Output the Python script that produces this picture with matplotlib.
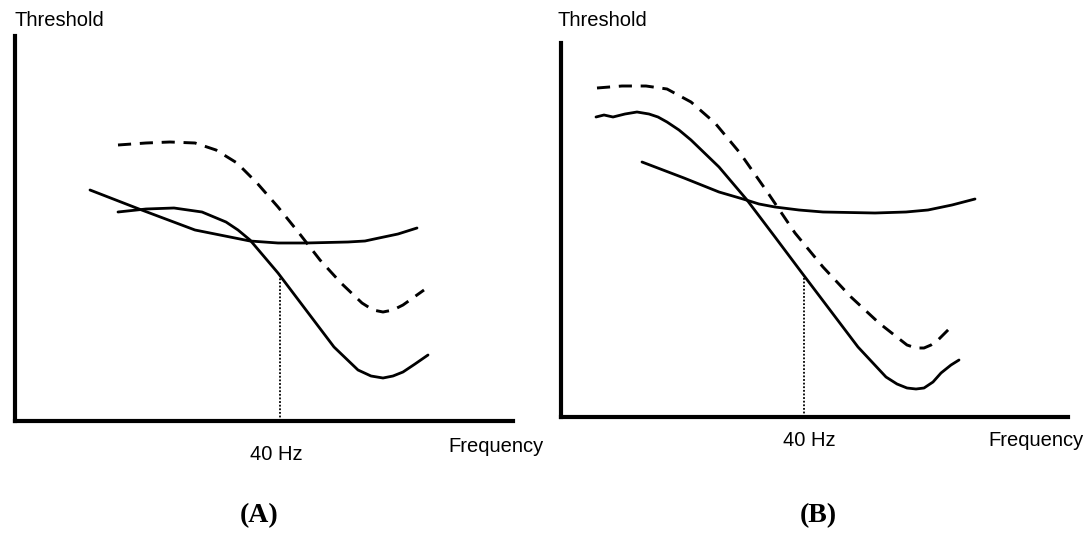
import matplotlib.pyplot as plt
import numpy as np

# schematic threshold curves, units = arbitrary
# panel A
a_dash_x = [103, 131, 155, 180, 201, 222, 242, 263, 284, 305, 326, 347, 358, 368, 378, 388, 409]
a_dash_y = [276, 278, 279, 278, 271, 258, 238, 214, 188, 161, 138, 118, 111, 109, 111, 116, 131]
a_s_x = [103, 131, 159, 187, 211, 223, 235, 263, 291, 319, 343, 356, 368, 378, 388, 400, 413]
a_s_y = [209, 212, 213, 209, 199, 191, 181, 148, 111, 74, 51, 45, 43, 45, 49, 57, 66]
a_flat_x = [75, 124, 180, 235, 263, 291, 333, 350, 364, 383, 402]
a_flat_y = [231, 212, 191, 180, 178, 178, 179, 180, 183, 187, 193]
a_40hz = 265

# panel B
b_dash_x = [36, 61, 85, 106, 130, 154, 179, 207, 234, 262, 290, 318, 346, 355, 363, 370, 377, 389]
b_dash_y = [329, 331, 331, 328, 315, 294, 264, 224, 184, 150, 120, 94, 72, 69, 69, 72, 77, 89]
b_s_x = [35, 43, 52, 64, 76, 88, 97, 106, 118, 130, 158, 186, 214, 241, 269, 297, 325, 336,
         346, 355, 363, 372, 380, 390, 398]
b_s_y = [300, 302, 300, 303, 305, 303, 300, 295, 287, 277, 250, 217, 180, 144, 107, 70, 40, 33,
         29, 28, 29, 35, 44, 52, 57]
b_flat_x = [81, 123, 158, 182, 198, 214, 238, 262, 314, 345, 367, 391, 414]
b_flat_y = [255, 239, 225, 218, 213, 210, 207, 205, 204, 205, 207, 212, 218]
b_40hz = 243

W, H = 1091, 539
fig = plt.figure(figsize=(W / 100, H / 100), dpi=100)

label_font = ['Liberation Sans', 'DejaVu Sans']


def panel(left, bottom, right, top, dash, solid, flat, f40):
    ax = fig.add_axes([left / W, 1 - bottom / H, (right - left) / W, (bottom - top) / H])
    ax.set_xlim(0, right - left)
    ax.set_ylim(0, bottom - top)
    for s in ['top', 'right']:
        ax.spines[s].set_visible(False)
    for s in ['left', 'bottom']:
        ax.spines[s].set_linewidth(3)
        ax.spines[s].set_capstyle('projecting')
    ax.set_xticks([])
    ax.set_yticks([])

    ax.plot(dash[0], dash[1], color='black', lw=2.1, dashes=(4.5, 3),
            solid_joinstyle='round')
    ax.plot(solid[0], solid[1], color='black', lw=2.0, solid_joinstyle='round',
            solid_capstyle='round')
    ax.plot(flat[0], flat[1], color='black', lw=2.0, solid_joinstyle='round',
            solid_capstyle='round')
    y40 = np.interp(f40, solid[0], solid[1])
    ax.plot([f40, f40], [0, y40], color='black', lw=1.3, linestyle=(0, (1, 1)))
    return ax


panel(15, 421, 513, 36, (a_dash_x, a_dash_y), (a_s_x, a_s_y), (a_flat_x, a_flat_y), a_40hz)
panel(561, 417, 1068, 43, (b_dash_x, b_dash_y), (b_s_x, b_s_y), (b_flat_x, b_flat_y), b_40hz)


def txt(x, y, s, **kw):
    fig.text(x / W, 1 - y / H, s, **kw)


txt(14, 21, 'Threshold', ha='left', va='center', fontsize=14.5, family=label_font)
txt(557, 21, 'Threshold', ha='left', va='center', fontsize=14.5, family=label_font)
txt(276, 454, '40 Hz', ha='center', va='center', fontsize=14.5, family=label_font)
txt(809, 441, '40 Hz', ha='center', va='center', fontsize=14.5, family=label_font)
txt(448, 447, 'Frequency', ha='left', va='center', fontsize=14.5, family=label_font)
txt(988, 441, 'Frequency', ha='left', va='center', fontsize=14.5, family=label_font)
txt(259, 516, '(A)', ha='center', va='center', fontsize=20, fontweight='bold',
    family=['Liberation Serif', 'DejaVu Serif'])
txt(818, 516, '(B)', ha='center', va='center', fontsize=20, fontweight='bold',
    family=['Liberation Serif', 'DejaVu Serif'])

plt.savefig('out.png', dpi=100)
